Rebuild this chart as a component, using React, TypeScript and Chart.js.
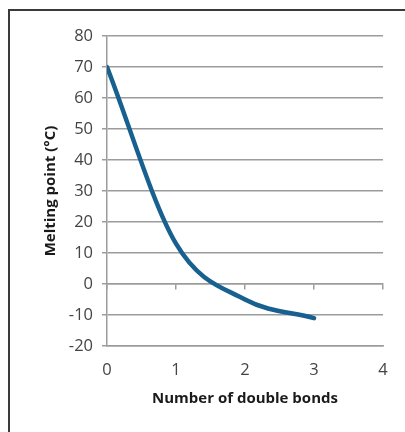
import { useRef, useEffect } from 'react';
import { Chart } from 'chart.js/auto';

// number of double bonds vs melting point (°C)
const doubleBonds = [0, 1, 2, 3];
const meltingPoints = [70, 13, -5, -11];
const xTicks = [0, 1, 2, 3, 4];
const yTicks = [-20, -10, 0, 10, 20, 30, 40, 50, 60, 70, 80];

const gridGray = '#9c9c9c';
const labelGray = '#444444';
const lineBlue = '#17608f';

export default function App() {
  const canvasRef = useRef<HTMLCanvasElement>(null);
  const chartRef = useRef<Chart | null>(null);

  useEffect(() => {
    document.body.style.margin = '0';
    if (!canvasRef.current) return;
    if (chartRef.current) {
      chartRef.current.destroy();
    }
    const ctx = canvasRef.current.getContext('2d');
    if (!ctx) return;

    chartRef.current = new Chart(ctx, {
      type: 'line',
      data: {
        datasets: [
          {
            data: doubleBonds.map((x, i) => ({ x, y: meltingPoints[i] })),
            borderColor: lineBlue,
            borderWidth: 4.5,
            pointRadius: 0,
            cubicInterpolationMode: 'monotone',
            borderCapStyle: 'round',
            fill: false
          }
        ]
      },
      options: {
        responsive: false,
        animation: false,
        layout: {
          padding: { top: 36, right: 22, bottom: 0, left: 0 }
        },
        plugins: {
          legend: { display: false },
          tooltip: { enabled: false }
        },
        scales: {
          x: {
            type: 'linear',
            min: xTicks[0],
            max: xTicks[xTicks.length - 1],
            afterBuildTicks: (scale: any) => {
              scale.ticks = xTicks.map((v) => ({ value: v }));
            },
            afterFit: (scale: any) => {
              scale.height = 86;
            },
            grid: { drawOnChartArea: false, drawTicks: false },
            border: { color: gridGray, width: 1.5 },
            ticks: {
              color: labelGray,
              padding: 14,
              font: { family: 'Open Sans', size: 16.5 }
            },
            title: {
              display: true,
              text: 'Number of double bonds',
              color: '#1a1a1a',
              font: { family: 'Open Sans', size: 15, weight: 'bold' },
              padding: { top: 0, bottom: 24 }
            }
          },
          x2: {
            type: 'linear',
            axis: 'x',
            position: { y: 0 },
            min: xTicks[0],
            max: xTicks[xTicks.length - 1],
            afterBuildTicks: (scale: any) => {
              scale.ticks = xTicks.map((v) => ({ value: v }));
            },
            grid: { drawOnChartArea: false, drawTicks: true, tickLength: 5, color: gridGray, lineWidth: 1.5 },
            border: { color: gridGray, width: 1.5 },
            ticks: { display: false }
          },
          y: {
            type: 'linear',
            min: yTicks[0],
            max: yTicks[yTicks.length - 1],
            afterBuildTicks: (scale: any) => {
              scale.ticks = yTicks.map((v) => ({ value: v }));
            },
            afterFit: (scale: any) => {
              scale.width = 107;
            },
            grid: { color: gridGray, lineWidth: 1.5, tickLength: 5 },
            border: { color: gridGray, width: 1.5 },
            ticks: {
              color: labelGray,
              padding: 9,
              font: { family: 'Open Sans', size: 16.5 }
            },
            title: {
              display: true,
              text: 'Melting point (°C)',
              color: '#1a1a1a',
              font: { family: 'Open Sans', size: 15, weight: 'bold' },
              padding: { top: 42, bottom: 0 }
            }
          }
        }
      }
    } as any);

    return () => {
      if (chartRef.current) {
        chartRef.current.destroy();
        chartRef.current = null;
      }
    };
  }, []);

  return (
    <div style={{ position: 'relative', width: 405, height: 432, overflow: 'hidden', background: '#fff' }}>
      <div
        style={{
          position: 'absolute',
          left: 8,
          top: 9,
          width: 420,
          height: 450,
          borderTop: '2px solid #3a3a3a',
          borderLeft: '2px solid #3a3a3a'
        }}
      />
      <canvas ref={canvasRef} width={405} height={432} style={{ position: 'absolute', left: 0, top: 0 }} />
    </div>
  );
}
